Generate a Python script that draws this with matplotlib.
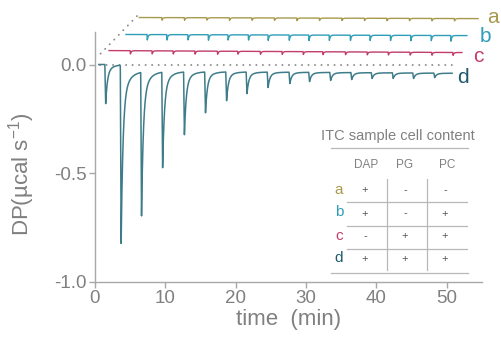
import numpy as np
import matplotlib
matplotlib.use("Agg")
import matplotlib.pyplot as plt

plt.rcParams['font.family'] = ['Liberation Sans', 'DejaVu Sans']
plt.rcParams['mathtext.fontset'] = 'custom'
plt.rcParams['mathtext.rm'] = 'Liberation Sans'
plt.rcParams['mathtext.default'] = 'regular'

# ---------------- data ----------------
# trace d (DAP + PG + PC): injection times (min) and peak minimum values
d_inj_t = [1.4, 3.6, 6.5, 9.5, 12.6, 15.6, 18.6, 21.5, 24.5, 27.6, 30.4,
           33.4, 36.4, 39.3, 42.3, 45.2, 48.2]
d_peak = [-0.18, -0.82, -0.69, -0.47, -0.32, -0.22, -0.165, -0.133, -0.105,
          -0.087, -0.078, -0.073, -0.069, -0.064, -0.064, -0.064, -0.060]
d_base_t = [0.55, 3.55, 3.9, 50.8]
d_base_v = [0.0, 0.0, -0.030, -0.040]

# traces a, b, c: injection times (min) and spike depths
a_inj_t = [9.5, 12.7, 15.9, 19.1, 22.3, 25.5, 28.7, 31.9, 35.1, 38.3, 41.5,
           44.7, 47.9, 51.1]
a_depth = [0.012, 0.012, 0.011, 0.012, 0.011, 0.011, 0.012, 0.011, 0.011,
           0.011, 0.011, 0.011, 0.011, 0.011]
a_base_t = [6.3, 54.5]
a_base_v = [0.216, 0.211]

b_inj_t = [7.4, 10.2, 13.2, 16.1, 18.9, 21.8, 24.6, 27.6, 30.4, 33.3, 36.3,
           39.1, 42.0, 44.9, 47.8, 50.6]
b_depth = [0.025, 0.025, 0.024, 0.025, 0.024, 0.024, 0.025, 0.024, 0.025,
           0.024, 0.024, 0.024, 0.024, 0.024, 0.024, 0.026]
b_base_t = [4.4, 52.9]
b_base_v = [0.138, 0.133]

c_inj_t = [5.0, 8.1, 11.1, 14.2, 17.4, 20.3, 23.5, 26.6, 29.6, 32.4, 35.6,
           38.7, 41.7, 44.8, 47.9, 50.9]
c_depth = [0.015, 0.014, 0.014, 0.014, 0.014, 0.013, 0.013, 0.013, 0.013,
           0.013, 0.013, 0.013, 0.013, 0.013, 0.013, 0.013]
c_base_t = [2.0, 52.2]
c_base_v = [0.064, 0.055]

# table of cell contents
tab_cols = ['DAP', 'PG', 'PC']
tab_rows = ['a', 'b', 'c', 'd']
tab_vals = [['+', '-', '-'],
            ['+', '-', '+'],
            ['-', '+', '+'],
            ['+', '+', '+']]

col_a, col_b, col_c, col_d = '#A89A4C', '#2E9DB8', '#C23C6C', '#3E7C8A'
lab_d = '#1E5A6C'
grey_txt = '#808080'
grey_ax = '#A8A8A8'


def build_trace(t0, t1, base_t, base_v, inj_t, depths, fall, taus, weights,
                absolute=False):
    t = np.arange(t0, t1, 0.005)
    y = np.interp(t, base_t, base_v)
    for ti, h in zip(inj_t, depths):
        if absolute:
            h = np.interp(ti + fall, base_t, base_v) - h
        s = t - ti
        shape = np.zeros_like(t)
        m1 = (s >= 0) & (s < fall)
        shape[m1] = s[m1] / fall
        m2 = s >= fall
        rec = np.zeros(m2.sum())
        for tau, w in zip(taus, weights):
            rec += w * np.exp(-(s[m2] - fall) / tau)
        shape[m2] = rec
        y = y - h * shape
    return t, y


fig = plt.figure(figsize=(5.01, 3.40), dpi=100)
W, H = 501, 340
px_per_min = 7.03
px_per_unit = 217.5
x0px, ybot_px = 95, 282
xmax = 55.0
ymin, ymax = -1.0, 0.27
ax = fig.add_axes([x0px / W, (H - ybot_px) / H,
                   xmax * px_per_min / W, (ymax - ymin) * px_per_unit / H])
ax.set_xlim(0, xmax)
ax.set_ylim(ymin, ymax)

# dotted guides
ax.plot([0.75, 51.2], [0.0, 0.0], color='#8C8C8C', lw=1.4,
        linestyle=(0, (0.05, 3.3)), dash_capstyle='round', zorder=1)
ax.plot([0.8, 6.25], [0.05, 0.232], color='#8C8C8C', lw=1.4,
        linestyle=(0, (0.05, 3.3)), dash_capstyle='round', zorder=1)

t, y = build_trace(6.3, 54.5, a_base_t, a_base_v, a_inj_t, a_depth, 0.04,
                   [0.12], [1.0])
ax.plot(t, y, color=col_a, lw=1.0, clip_on=False)
t, y = build_trace(4.4, 52.9, b_base_t, b_base_v, b_inj_t, b_depth, 0.04,
                   [0.12], [1.0])
ax.plot(t, y, color=col_b, lw=1.0, clip_on=False)
t, y = build_trace(2.0, 52.2, c_base_t, c_base_v, c_inj_t, c_depth, 0.04,
                   [0.12], [1.0])
ax.plot(t, y, color=col_c, lw=1.0, clip_on=False)
t, y = build_trace(0.55, 50.8, d_base_t, d_base_v, d_inj_t, d_peak, 0.12,
                   [0.25, 0.9], [0.82, 0.18], absolute=True)
ax.plot(t, y, color=col_d, lw=1.1, clip_on=False)

# trace labels
for lab, xx, yy, cc in [('a', 56.6, 0.218, col_a), ('b', 55.5, 0.128, col_b),
                        ('c', 54.5, 0.038, col_c), ('d', 52.4, -0.058, lab_d)]:
    ax.text(xx, yy, lab, color=cc, fontsize=15, ha='center', va='center',
            clip_on=False)

# axes styling
for sp in ['top', 'right']:
    ax.spines[sp].set_visible(False)
for sp in ['left', 'bottom']:
    ax.spines[sp].set_color(grey_ax)
    ax.spines[sp].set_linewidth(1.0)
ax.spines['left'].set_bounds(-1.0, 0.15)
ax.set_xticks([0, 10, 20, 30, 40, 50])
ax.set_yticks([-1.0, -0.5, 0.0])
ax.set_yticklabels(['-1.0', '-0.5', '0.0'])
ax.tick_params(axis='both', colors=grey_ax, labelcolor=grey_txt,
               labelsize=13.5, length=4, width=1.0, pad=2)
ax.set_xlabel('time  (min)', fontsize=16, color=grey_txt, labelpad=1)
ax.set_ylabel('DP(µcal s$^{-1}$)', fontsize=16, color=grey_txt)
ax.yaxis.set_label_coords(-0.15, 0.39)

# table overlay in pixel coordinates
ov = fig.add_axes([0, 0, 1, 1], zorder=5)
ov.set_xlim(0, W)
ov.set_ylim(H, 0)
ov.axis('off')
ov.patch.set_alpha(0)
line_c = '#B8B8B8'
ov.text(398, 136, 'ITC sample cell content', fontsize=10.5, color=grey_txt,
        ha='center', va='center')
ov.plot([331, 468], [147.5, 147.5], color=line_c, lw=0.9)
ov.plot([331, 468], [273, 273], color=line_c, lw=0.9)
for yy in [202, 226, 248.5]:
    ov.plot([347, 467], [yy, yy], color=line_c, lw=0.9)
for xx in [387, 427]:
    ov.plot([xx, xx], [179, 270], color=line_c, lw=0.9)
col_x = [366, 405, 447]
cell_x = [365, 405, 445]
row_y = [190.5, 213.5, 236.5, 259]
row_cols = [col_a, col_b, col_c, lab_d]
for cx, name in zip(col_x, tab_cols):
    ov.text(cx, 165, name, fontsize=8.5, color=grey_txt, ha='center',
            va='center')
for ry, rname, rc, vals in zip(row_y, tab_rows, row_cols, tab_vals):
    ov.text(339, ry - 1, rname, fontsize=11, color=rc, ha='center',
            va='center')
    for cx, v in zip(cell_x, vals):
        ov.text(cx, ry, v, fontsize=8, color='#555555', ha='center',
                va='center')

fig.savefig('out.png', dpi=100)
